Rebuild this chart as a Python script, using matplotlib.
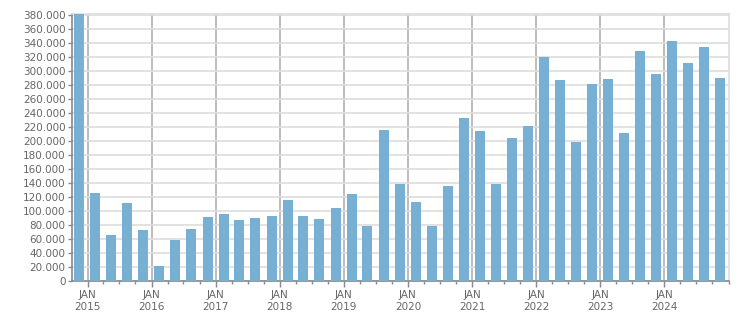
import datetime as dt
import matplotlib
matplotlib.use("Agg")
import matplotlib.pyplot as plt
import matplotlib.dates as mdates
from matplotlib.ticker import FuncFormatter, MultipleLocator

# quarterly values, one bar every three months starting Nov 2014
values = [382000, 125700, 65200, 110900, 72400, 20900, 58500, 73800,
          90900, 95200, 86600, 89700, 92300, 115200, 92300, 88100,
          103800, 124200, 78100, 215200, 138500, 112800, 78100, 135700,
          232900, 213800, 138500, 204300, 221400, 320000, 287100, 198600,
          281400, 288600, 211400, 328600, 295700, 342900, 311400, 334300,
          290000]
start_year, start_month = 2014, 11
dates = []
for i in range(len(values)):
    m = start_month - 1 + 3 * i
    dates.append(dt.date(start_year + m // 12, m % 12 + 1, 15))
years = list(range(2015, 2025))

bar_color = "#77b0d3"
text_color = "#666666"

fig = plt.figure(figsize=(7.51, 3.13), dpi=100)
ax = fig.add_axes([0.0955, 0.1033, 0.8748, 0.8529])

ax.bar(dates, values, width=57, color=bar_color, zorder=3)

ax.set_xlim(dt.date(2014, 10, 3), dt.date(2025, 1, 2))
ax.set_ylim(0, 382400)

# y axis
ax.yaxis.set_major_locator(MultipleLocator(20000))
ax.yaxis.set_major_formatter(FuncFormatter(lambda v, p: f"{int(v):,}".replace(",", ".")))
ax.grid(axis="y", color="#dddddd", linewidth=1.2, zorder=0)

# x axis: JAN ticks with year below, quarterly minor ticks
ax.set_xticks([mdates.date2num(dt.date(y, 1, 1)) for y in years])
ax.set_xticklabels([f"JAN\n{y}" for y in years])
ax.xaxis.set_minor_locator(mdates.MonthLocator(bymonth=[1, 4, 7, 10]))
ax.grid(axis="x", which="major", color="#b0b0b0", linewidth=1.2, zorder=1)

ax.tick_params(axis="both", which="major", labelsize=7.5, colors="#888888",
               labelcolor=text_color, length=4, width=1)
ax.tick_params(axis="x", which="minor", length=2.5, width=1, colors="#888888")
ax.tick_params(axis="x", which="major", pad=2.5)
ax.tick_params(axis="y", pad=1.5, length=3)
for lbl in ax.get_xticklabels():
    lbl.set_linespacing(1.35)

for s in ["left", "bottom"]:
    ax.spines[s].set_color("#888888")
    ax.spines[s].set_linewidth(1.2)
for s in ["top", "right"]:
    ax.spines[s].set_color("#dddddd")
    ax.spines[s].set_linewidth(1.2)

fig.savefig("out.png", dpi=100)
